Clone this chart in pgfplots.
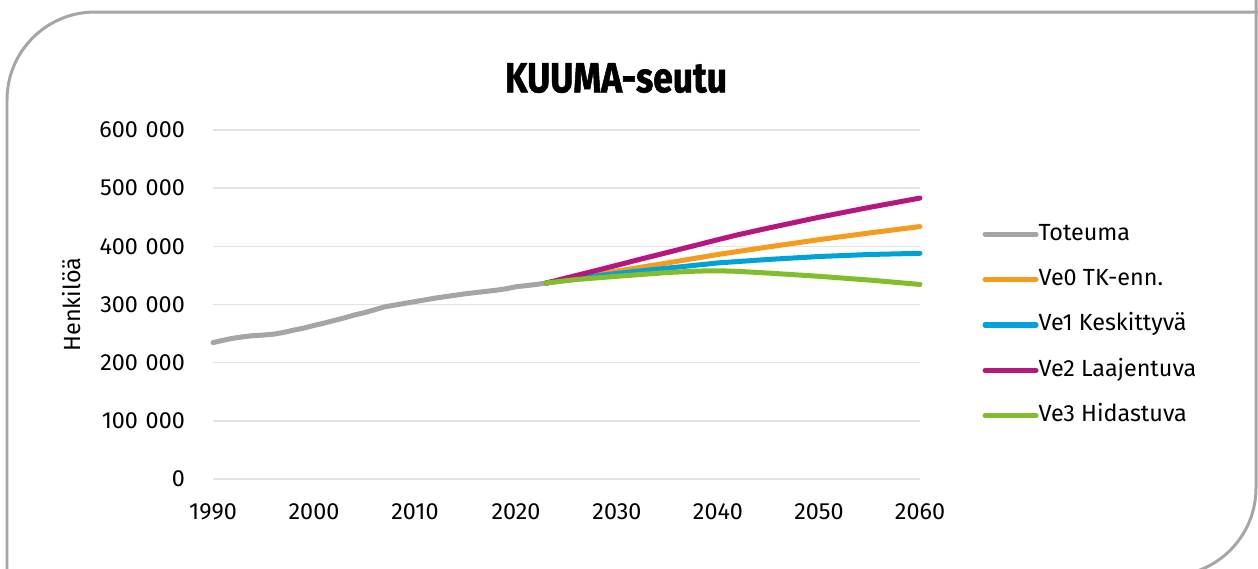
\documentclass[border=0pt]{standalone}
\usepackage{fontspec}
\setmainfont{Fira Sans}
\newfontfamily\titlefont[FakeStretch=0.84, BoldFeatures={FakeBold=1.3}]{Fira Sans}
\usepackage{pgfplots}
\pgfplotsset{compat=1.18}

\definecolor{toteuma}{HTML}{A5A5A5}
\definecolor{ve0}{HTML}{F59C1F}
\definecolor{ve1}{HTML}{00A3D9}
\definecolor{ve2}{HTML}{B5177F}
\definecolor{ve3}{HTML}{84BD2C}
\definecolor{gridc}{HTML}{E3E3E3}
\definecolor{framec}{HTML}{A6A6A6}
\newcommand\ts{\hspace{0.33em}}

\begin{document}
\fontsize{13.3}{16}\selectfont
\begin{tikzpicture}
\useasboundingbox (0,0) rectangle (25.16,11.36);
% rounded frame, only two corners visible
\begin{scope}
\clip (0,0) rectangle (25.16,11.36);
\draw[framec, line width=0.06cm] (0.14,-1) -- (0.14,9.36) arc (180:90:1.76) -- (26,11.12);
\draw[framec, line width=0.06cm] (25.12,12) -- (25.12,1.6) arc (0:-90:1.76) -- (-1,-0.16);
\end{scope}

\node[font=\titlefont\fontsize{24}{28}\selectfont\bfseries] at (12.32,9.8) {KUUMA-seutu};

\begin{axis}[
    at={(4.26cm,1.78cm)}, anchor=south west,
    scale only axis,
    width=14.14cm, height=6.98cm,
    xmin=1990, xmax=2060,
    ymin=0, ymax=600000,
    clip=false,
    axis line style={draw=none},
    major tick length=0pt,
    xtick={1990,2000,...,2060},
    xticklabel style={/pgf/number format/1000 sep=, yshift=-0.33cm},
    ytick={0,100000,...,600000},
    yticklabels={0,100\ts000,200\ts000,300\ts000,400\ts000,500\ts000,600\ts000},
    scaled y ticks=false,
    yticklabel style={xshift=-0.4cm},
    /pgf/number format/assume math mode=true,
    ymajorgrids,
    grid style={gridc, line width=0.9pt},
    ylabel={Henkilöä},
    every axis y label/.style={at={(-0.1994,0.5)}, rotate=90, anchor=center},
    legend style={at={(1.088,0.734)}, anchor=north west, draw=none, fill=none,
        inner sep=0pt, row sep=4.68mm,
        nodes={inner sep=0pt, text height=3.4mm, text depth=1mm},
        /tikz/every even column/.append style={column sep=0pt}},
    legend cell align=left,
    legend image code/.code={\draw[#1, line cap=round] (0cm,0cm) -- (1.02cm,0cm);},
    every axis plot/.append style={line width=2.85pt, line cap=round, line join=round},
]
\addplot[toteuma] coordinates {
(1990,234500)(1991,238500)(1992,242000)(1993,244500)(1994,246500)(1995,247500)
(1996,249000)(1997,252000)(1998,256000)(1999,259500)(2000,264000)(2001,268000)
(2002,272500)(2003,277000)(2004,282000)(2005,286000)(2006,291000)(2007,296000)
(2008,299000)(2009,302000)(2010,305000)(2011,308000)(2012,311000)(2013,313500)
(2014,316000)(2015,318500)(2016,320500)(2017,322500)(2018,324500)(2019,327000)
(2020,330500)(2021,332500)(2022,334500)(2023,337000)};
\addplot[ve0] coordinates {
(2023,337000)(2026,346000)(2030,357500)(2035,371500)(2040,386000)
(2045,399000)(2050,411500)(2055,423000)(2060,434000)};
\addplot[ve1] coordinates {
(2023,337000)(2026,345000)(2030,353500)(2035,362500)(2040,371500)
(2045,377500)(2050,382500)(2055,386000)(2060,388000)};
\addplot[ve2] coordinates {
(2023,337000)(2026,350000)(2030,367500)(2032,376500)(2035,389500)(2040,411500)
(2042,420000)(2045,431500)(2050,450000)(2055,467000)(2060,483000)};
\addplot[ve3] coordinates {
(2023,337000)(2026,343000)(2030,348500)(2035,355000)(2038,357500)
(2040,358000)(2042,357000)(2045,354000)(2050,348500)(2055,342000)(2060,334500)};
\legend{Toteuma,Ve0 TK-enn.,Ve1 Keskittyvä,Ve2 Laajentuva,Ve3 Hidastuva}
\end{axis}
\end{tikzpicture}
\end{document}
